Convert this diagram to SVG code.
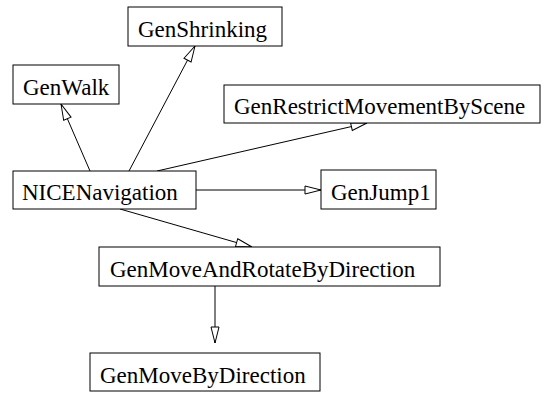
<svg xmlns="http://www.w3.org/2000/svg" width="552" height="393" viewBox="0 0 552 393">
<style>
rect{fill:#fff;stroke:#000;stroke-width:1}
text{font-family:"Liberation Serif","Times New Roman",serif;font-size:23px;fill:#000}
.c line{stroke:#000;stroke-width:1;marker-end:url(#a)}
</style>
<defs>
<marker id="a" markerUnits="userSpaceOnUse" markerWidth="18" markerHeight="12" refX="17" refY="5.5" orient="auto" viewBox="0 0 18 12">
<path d="M1,1.5 L17,5.5 L1,9.5 Z" fill="#fff" stroke="#000" stroke-width="1"/>
</marker>
</defs>
<rect x="0" y="0" width="552" height="393" style="stroke:none"/>
<g class="c">
<line x1="90" y1="171" x2="61" y2="104"/>
<line x1="129" y1="171" x2="195" y2="46"/>
<line x1="157" y1="171" x2="367" y2="123"/>
<line x1="196" y1="190" x2="321" y2="190"/>
<line x1="120" y1="209" x2="252" y2="247"/>
<line x1="215" y1="286" x2="215" y2="343"/>
</g>
<g id="GenShrinking"><rect x="128" y="7" width="154" height="39"/><text x="138" y="37">GenShrinking</text></g>
<g id="GenWalk"><rect x="13" y="65" width="106" height="39"/><text x="23" y="95">GenWalk</text></g>
<g id="GenRestrictMovementByScene"><rect x="224" y="85" width="316" height="38"/><text x="234" y="114">GenRestrictMovementByScene</text></g>
<g id="NICENavigation"><rect x="13" y="171" width="183" height="38"/><text x="22" y="200">NICENavigation</text></g>
<g id="GenJump1"><rect x="321" y="170" width="115" height="39"/><text x="331" y="200">GenJump1</text></g>
<g id="GenMoveAndRotateByDirection"><rect x="99" y="247" width="341" height="39"/><text x="110" y="277">GenMoveAndRotateByDirection</text></g>
<g id="GenMoveByDirection"><rect x="90" y="353" width="230" height="38"/><text x="100" y="383">GenMoveByDirection</text></g>
</svg>
